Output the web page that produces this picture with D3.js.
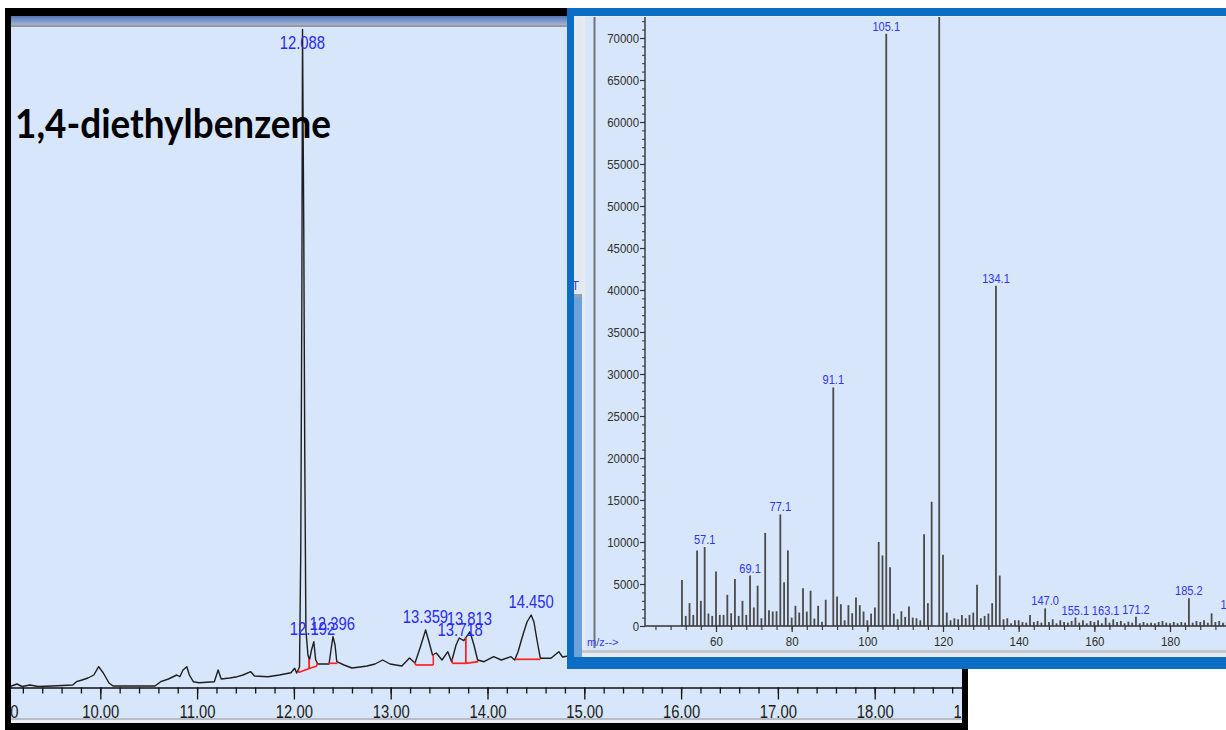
<!DOCTYPE html>
<html>
<head>
<meta charset="utf-8">
<script src="https://cdn.jsdelivr.net/npm/d3@7"></script>
<style>
  html, body { margin: 0; padding: 0; background: #ffffff; }
  svg { display: block; }
</style>
</head>
<body>
<svg id="chart" width="1226" height="730"></svg>
<script>
// ---------------- Total ion chromatogram ----------------
// retention time (min)
const ticTime = [
  9.000, 9.083, 9.139, 9.191, 9.274, 9.356, 9.501, 9.715, 9.754, 9.811,
  9.873, 9.933, 9.983, 10.031, 10.090, 10.131, 10.565, 10.624, 10.704, 10.790,
  10.822, 10.854, 10.894, 10.920, 10.961, 11.020, 11.178, 11.217, 11.249, 11.336,
  11.415, 11.474, 11.554, 11.593, 11.732, 11.850, 11.969, 12.008, 12.028, 12.058,
  12.071, 12.082, 12.089, 12.102, 12.112, 12.124, 12.145, 12.161, 12.182, 12.206,
  12.225, 12.249, 12.363, 12.383, 12.404, 12.425, 12.443, 12.518, 12.600, 12.683,
  12.755, 12.838, 12.917, 12.993, 13.115, 13.194, 13.251, 13.303, 13.361, 13.396,
  13.432, 13.471, 13.530, 13.590, 13.629, 13.675, 13.708, 13.755, 13.819, 13.860,
  13.898, 13.964, 14.064, 14.142, 14.243, 14.281, 14.315, 14.360, 14.408, 14.451,
  14.480, 14.511, 14.546, 14.656, 14.736, 14.776, 14.832
];
// abundance (counts)
const ticAbundance = [
  10000, 15000, 35000, 10000, 25000, 10000, 15000, 25000, 58000, 75000,
  95000, 125000, 208000, 145000, 45000, 15000, 15000, 58000, 85000, 125000,
  108000, 175000, 208000, 125000, 58000, 48000, 58000, 175000, 85000, 95000,
  108000, 125000, 158000, 115000, 108000, 125000, 148000, 192000, 145000, 205000,
  1375000, 3875000, 6580000, 4575000, 2375000, 575000, 325000, 275000, 375000, 458000,
  275000, 235000, 235000, 375000, 508000, 425000, 258000, 225000, 195000, 205000,
  215000, 235000, 275000, 235000, 215000, 295000, 245000, 395000, 575000, 455000,
  325000, 345000, 275000, 358000, 258000, 425000, 495000, 468000, 558000, 425000,
  275000, 258000, 308000, 275000, 308000, 275000, 355000, 508000, 655000, 725000,
  655000, 475000, 292000, 292000, 358000, 305000, 315000
];

// integrated peaks
const peakLabels    = ["12.088", "12.192", "12.396", "13.359", "13.718", "13.813", "14.450"];
const peakStart     = [12.047, 12.158, 12.356, 13.255, 13.636, 13.775, 14.284];
const peakEnd       = [12.158, 12.238, 12.450, 13.440, 13.775, 13.905, 14.546];
const peakStartBase = [150000, 190000, 242000, 225000, 242000, 242000, 282000];
const peakEndBase   = [190000, 215000, 242000, 225000, 242000, 258000, 282000];

const timeMajorTicks = [9, 10, 11, 12, 13, 14, 15, 16, 17, 18, 19];

// ---------------- Mass spectrum ----------------
const specMz = [
  51, 52, 53, 54, 55, 56, 57, 58, 59, 60, 61, 62, 63, 64, 65, 66, 67, 68, 69, 70,
  71, 72, 73, 74, 75, 76, 77, 78, 79, 80, 81, 82, 83, 84, 85, 86, 87, 88, 89, 91,
  92, 93, 94, 95, 96, 97, 98, 99, 100, 101, 102, 103, 104, 105, 106, 107, 108, 109, 110, 111,
  112, 113, 114, 115, 116, 117, 119, 120, 121, 122, 123, 124, 125, 126, 127, 128, 129, 130, 131, 132,
  133, 134, 135, 136, 137, 138, 139, 140, 141, 142, 143, 144, 145, 146, 147, 148, 149, 150, 151, 152,
  153, 154, 155, 156, 157, 158, 159, 160, 161, 162, 163, 164, 165, 166, 167, 168, 169, 170, 171, 172,
  173, 174, 175, 176, 177, 178, 179, 180, 181, 182, 183, 184, 185, 186, 187, 188, 189, 190, 191, 192,
  193, 194, 195, 196, 197
];
const specAbundance = [
  5480, 1200, 2720, 1320, 9000, 3000, 9400, 1480, 1200, 6480, 1320, 1320, 3720, 1520, 5600, 1200, 3000, 1320, 6000, 2200,
  4800, 920, 11080, 1880, 1720, 1760, 13280, 5200, 9000, 1000, 2400, 1600, 4480, 1720, 4200, 880, 2400, 520, 3120, 28400,
  3520, 2600, 680, 2480, 1520, 3400, 2480, 1720, 680, 1480, 2200, 10000, 8400, 70500, 7000, 1480, 800, 1760, 1080, 2320,
  1000, 920, 680, 10920, 2720, 14800, 132000, 8480, 1600, 680, 920, 800, 1320, 920, 1320, 1600, 4920, 920, 1200, 1480,
  2720, 40500, 6000, 800, 920, 320, 680, 680, 480, 400, 1300, 480, 600, 400, 2100, 480, 800, 320, 680, 480,
  400, 600, 1000, 400, 680, 320, 600, 480, 680, 320, 1000, 400, 800, 480, 600, 320, 520, 400, 1100, 320,
  480, 320, 400, 320, 480, 600, 400, 320, 480, 320, 480, 400, 3300, 400, 600, 480, 680, 400, 1500, 480,
  600, 400, 500, 400, 1700
];
const specLabelMz = [57, 69, 77, 91, 105, 134, 147, 155, 163, 171, 185, 197];
const specLabels  = ["57.1", "69.1", "77.1", "91.1", "105.1", "134.1", "147.0", "155.1", "163.1", "171.2", "185.2", "197.1"];

const mzMajorTicks = [60, 80, 100, 120, 140, 160, 180, 200];

// ---------------- helpers ----------------
const svg = d3.select("#chart");
const defs = svg.append("defs");

// narrow the rendered glyphs to the condensed look of the instrument software
function squeeze(sel, k) {
  sel.each(function () {
    const len = this.getComputedTextLength();
    if (len > 0) {
      d3.select(this).attr("textLength", len * k).attr("lengthAdjust", "spacingAndGlyphs");
    }
  });
}

function interp(xs, ys, t) {
  const i = d3.bisectLeft(xs, t);
  if (i <= 0) return ys[0];
  if (i >= xs.length) return ys[ys.length - 1];
  const f = (t - xs[i - 1]) / (xs[i] - xs[i - 1]);
  return ys[i - 1] + f * (ys[i] - ys[i - 1]);
}

// ================= Chromatogram window =================
const ticBox = { left: 11, right: 962, top: 27, bottom: 718 };

svg.append("rect").attr("x", 5).attr("y", 8).attr("width", 963).attr("height", 730)
  .attr("fill", "#000");

const tbGrad = defs.append("linearGradient").attr("id", "titlebar")
  .attr("x1", 0).attr("y1", 0).attr("x2", 0).attr("y2", 1);
tbGrad.append("stop").attr("offset", "0%").attr("stop-color", "#5677b4");
tbGrad.append("stop").attr("offset", "100%").attr("stop-color", "#9fb4d8");
svg.append("rect").attr("x", ticBox.left).attr("y", 16).attr("width", ticBox.right - ticBox.left)
  .attr("height", 9).attr("fill", "url(#titlebar)");
svg.append("rect").attr("x", ticBox.left).attr("y", 25).attr("width", ticBox.right - ticBox.left)
  .attr("height", 2).attr("fill", "#9a9a9a");

svg.append("rect").attr("x", ticBox.left).attr("y", ticBox.top)
  .attr("width", ticBox.right - ticBox.left).attr("height", ticBox.bottom - ticBox.top)
  .attr("fill", "#d7e6fb");
svg.append("rect").attr("x", ticBox.left).attr("y", 718).attr("width", ticBox.right - ticBox.left)
  .attr("height", 2).attr("fill", "#b8bec8");
svg.append("rect").attr("x", ticBox.left).attr("y", 720).attr("width", ticBox.right - ticBox.left)
  .attr("height", 3).attr("fill", "#eef0f3");

defs.append("clipPath").attr("id", "ticClip").append("rect")
  .attr("x", ticBox.left).attr("y", ticBox.top)
  .attr("width", ticBox.right - ticBox.left).attr("height", ticBox.bottom - ticBox.top);

const ticG = svg.append("g").attr("clip-path", "url(#ticClip)");

const x = d3.scaleLinear().domain([9, 19]).range([3.5, 971.5]);
const y = d3.scaleLinear().domain([0, 6600000]).range([687.5, 27.5]);

// minor ticks every 0.2 min
ticG.append("g").attr("transform", `translate(0,${y(0)})`)
  .call(d3.axisBottom(x).tickValues(d3.range(9, 19.01, 0.2)).tickSize(6).tickSizeOuter(0).tickFormat(""))
  .call(g => g.select(".domain").remove())
  .call(g => g.selectAll("line").attr("stroke", "#111").attr("stroke-width", 1.3));

const xAxisG = ticG.append("g").attr("transform", `translate(0,${y(0)})`)
  .call(d3.axisBottom(x).tickValues(timeMajorTicks).tickSize(12).tickSizeOuter(0).tickFormat(d3.format(".2f")));
xAxisG.select(".domain").attr("stroke", "#111").attr("stroke-width", 1.6);
xAxisG.selectAll("line").attr("stroke", "#111").attr("stroke-width", 1.3);
xAxisG.selectAll("text")
  .attr("y", 30).attr("dy", 0)
  .attr("fill", "#1a1a1a")
  .style("font-family", "'Liberation Sans', Arial, sans-serif")
  .style("font-size", "19px");
squeeze(xAxisG.selectAll("text"), 0.78);

// chromatogram trace
const ticLine = d3.line().x((d, i) => x(ticTime[i])).y((d, i) => y(ticAbundance[i]));
ticG.append("path").datum(ticTime).attr("d", ticLine)
  .attr("fill", "none").attr("stroke", "#1e1e1e").attr("stroke-width", 1.4)
  .attr("stroke-linejoin", "round");

// integration baselines and drop lines
peakLabels.forEach((lab, i) => {
  ticG.append("line")
    .attr("x1", x(peakStart[i])).attr("y1", y(peakStartBase[i]))
    .attr("x2", x(peakEnd[i])).attr("y2", y(peakEndBase[i]))
    .attr("stroke", "#ff1f1f").attr("stroke-width", 1.7);
  [[peakStart[i], peakStartBase[i]], [peakEnd[i], peakEndBase[i]]].forEach(([t, b]) => {
    const s = interp(ticTime, ticAbundance, t);
    if (s - b > 20000) {
      ticG.append("line")
        .attr("x1", x(t)).attr("x2", x(t))
        .attr("y1", y(b)).attr("y2", y(s))
        .attr("stroke", "#ff1f1f").attr("stroke-width", 1.5);
    }
  });
});

// retention-time labels above each apex
peakLabels.forEach((lab, i) => {
  let apexT = peakStart[i], apexA = -1;
  ticTime.forEach((t, j) => {
    if (t >= peakStart[i] && t <= peakEnd[i] && ticAbundance[j] > apexA) { apexA = ticAbundance[j]; apexT = t; }
  });
  const rt = +lab;
  const yOff = (lab === "13.718") ? -2 : -7;
  ticG.append("text")
    .attr("class", "peak-label")
    .attr("x", x(rt))
    .attr("y", Math.max(y(apexA) + yOff, 49))
    .attr("text-anchor", "middle")
    .attr("fill", "#2b2bf2")
    .style("font-family", "'Liberation Sans', Arial, sans-serif")
    .style("font-size", "19px")
    .text(lab);
});
squeeze(ticG.selectAll(".peak-label"), 0.78);

// compound name
svg.append("text")
  .attr("x", 15).attr("y", 138)
  .attr("fill", "#000")
  .style("font-family", "Lato, 'Open Sans', sans-serif")
  .style("font-weight", 700)
  .style("font-size", "40px")
  .attr("textLength", 316).attr("lengthAdjust", "spacingAndGlyphs")
  .text("1,4-diethylbenzene");

// ================= Mass spectrum window =================
svg.append("rect").attr("x", 567).attr("y", 8).attr("width", 700).attr("height", 661)
  .attr("fill", "#0b6ec4");
svg.append("rect").attr("x", 574).attr("y", 16).attr("width", 700).attr("height", 641)
  .attr("fill", "#e7ebf0");
// side strip
svg.append("rect").attr("x", 574).attr("y", 17).attr("width", 8).attr("height", 279)
  .attr("fill", "#e3e9f1");
svg.append("rect").attr("x", 574).attr("y", 296).attr("width", 8).attr("height", 361)
  .attr("fill", "#6ea2da");
svg.append("rect").attr("x", 574).attr("y", 294).attr("width", 8).attr("height", 3)
  .attr("fill", "#9aa0a8");
svg.append("text").attr("x", 575.5).attr("y", 290).attr("text-anchor", "middle")
  .attr("fill", "#3a3af0")
  .style("font-family", "'Liberation Sans', Arial, sans-serif").style("font-size", "12px")
  .text("T");

const msBox = { left: 585, right: 1226, top: 17, bottom: 650 };
svg.append("rect").attr("x", msBox.left).attr("y", msBox.top)
  .attr("width", msBox.right - msBox.left).attr("height", msBox.bottom - msBox.top)
  .attr("fill", "#d7e6fb");
svg.append("line").attr("x1", 594.5).attr("x2", 594.5).attr("y1", msBox.top).attr("y2", 648)
  .attr("stroke", "#6f747a").attr("stroke-width", 2);
svg.append("rect").attr("x", 582).attr("y", 650).attr("width", 700).attr("height", 3)
  .attr("fill", "#c4c9d0");

const mx = d3.scaleLinear().domain([60, 180]).range([716, 1170]);
const my = d3.scaleLinear().domain([0, 70000]).range([626, 38]);
const msLeft = 645;

defs.append("clipPath").attr("id", "msClip").append("rect")
  .attr("x", msLeft).attr("y", msBox.top)
  .attr("width", msBox.right - msLeft).attr("height", my(0) - msBox.top);

const msG = svg.append("g");

// spectrum bars
msG.append("g").attr("clip-path", "url(#msClip)")
  .selectAll("line").data(specMz).join("line")
  .attr("x1", d => mx(d)).attr("x2", d => mx(d))
  .attr("y1", my(0)).attr("y2", (d, i) => my(specAbundance[i]))
  .attr("stroke", "#4a4a4a").attr("stroke-width", 1.8);

// y axis
msG.append("line").attr("x1", msLeft).attr("x2", msLeft).attr("y1", my(0)).attr("y2", msBox.top)
  .attr("stroke", "#333").attr("stroke-width", 1.4);
msG.append("g").attr("transform", `translate(${msLeft},0)`)
  .call(d3.axisLeft(my).tickValues(d3.range(0, 72001, 1000)).tickSize(3).tickSizeOuter(0).tickFormat(""))
  .call(g => g.select(".domain").remove())
  .call(g => g.selectAll("line").attr("stroke", "#333").attr("stroke-width", 1));
const yAxisG = msG.append("g").attr("transform", `translate(${msLeft},0)`)
  .call(d3.axisLeft(my).tickValues(d3.range(0, 70001, 5000)).tickSize(5).tickSizeOuter(0).tickFormat(d3.format("d")));
yAxisG.select(".domain").remove();
yAxisG.selectAll("line").attr("stroke", "#333").attr("stroke-width", 1.2);
yAxisG.selectAll("text")
  .attr("x", -6)
  .attr("fill", "#2e2e2e")
  .style("font-family", "'Liberation Sans', Arial, sans-serif")
  .style("font-size", "13px");
squeeze(yAxisG.selectAll("text"), 0.88);

// x axis
msG.append("line").attr("x1", msLeft).attr("x2", msBox.right).attr("y1", my(0)).attr("y2", my(0))
  .attr("stroke", "#333").attr("stroke-width", 1.4);
msG.append("g").attr("transform", `translate(0,${my(0)})`)
  .call(d3.axisBottom(mx).tickValues(d3.range(44, 201, 4)).tickSize(4).tickSizeOuter(0).tickFormat(""))
  .call(g => g.select(".domain").remove())
  .call(g => g.selectAll("line").attr("stroke", "#333").attr("stroke-width", 1.1));
const mxAxisG = msG.append("g").attr("transform", `translate(0,${my(0)})`)
  .call(d3.axisBottom(mx).tickValues(mzMajorTicks).tickSize(6).tickSizeOuter(0).tickFormat(d3.format("d")));
mxAxisG.select(".domain").remove();
mxAxisG.selectAll("line").attr("stroke", "#333").attr("stroke-width", 1.2);
mxAxisG.selectAll("text")
  .attr("y", 20).attr("dy", 0)
  .attr("fill", "#2e2e2e")
  .style("font-family", "'Liberation Sans', Arial, sans-serif")
  .style("font-size", "12.5px");
squeeze(mxAxisG.selectAll("text"), 0.92);

msG.append("text").attr("x", 587).attr("y", 646)
  .attr("fill", "#3a3af0")
  .style("font-family", "'Liberation Sans', Arial, sans-serif").style("font-size", "11px")
  .text("m/z-->");

// m/z labels
specLabelMz.forEach((m, i) => {
  const v = specAbundance[specMz.indexOf(m)];
  msG.append("text")
    .attr("class", "mz-label")
    .attr("x", mx(m))
    .attr("y", Math.max(my(v) - 3, 31))
    .attr("text-anchor", "middle")
    .attr("fill", "#3434ee")
    .style("font-family", "'Liberation Sans', Arial, sans-serif")
    .style("font-size", "12px")
    .text(specLabels[i]);
});
squeeze(msG.selectAll(".mz-label"), 0.92);
</script>
</body>
</html>
